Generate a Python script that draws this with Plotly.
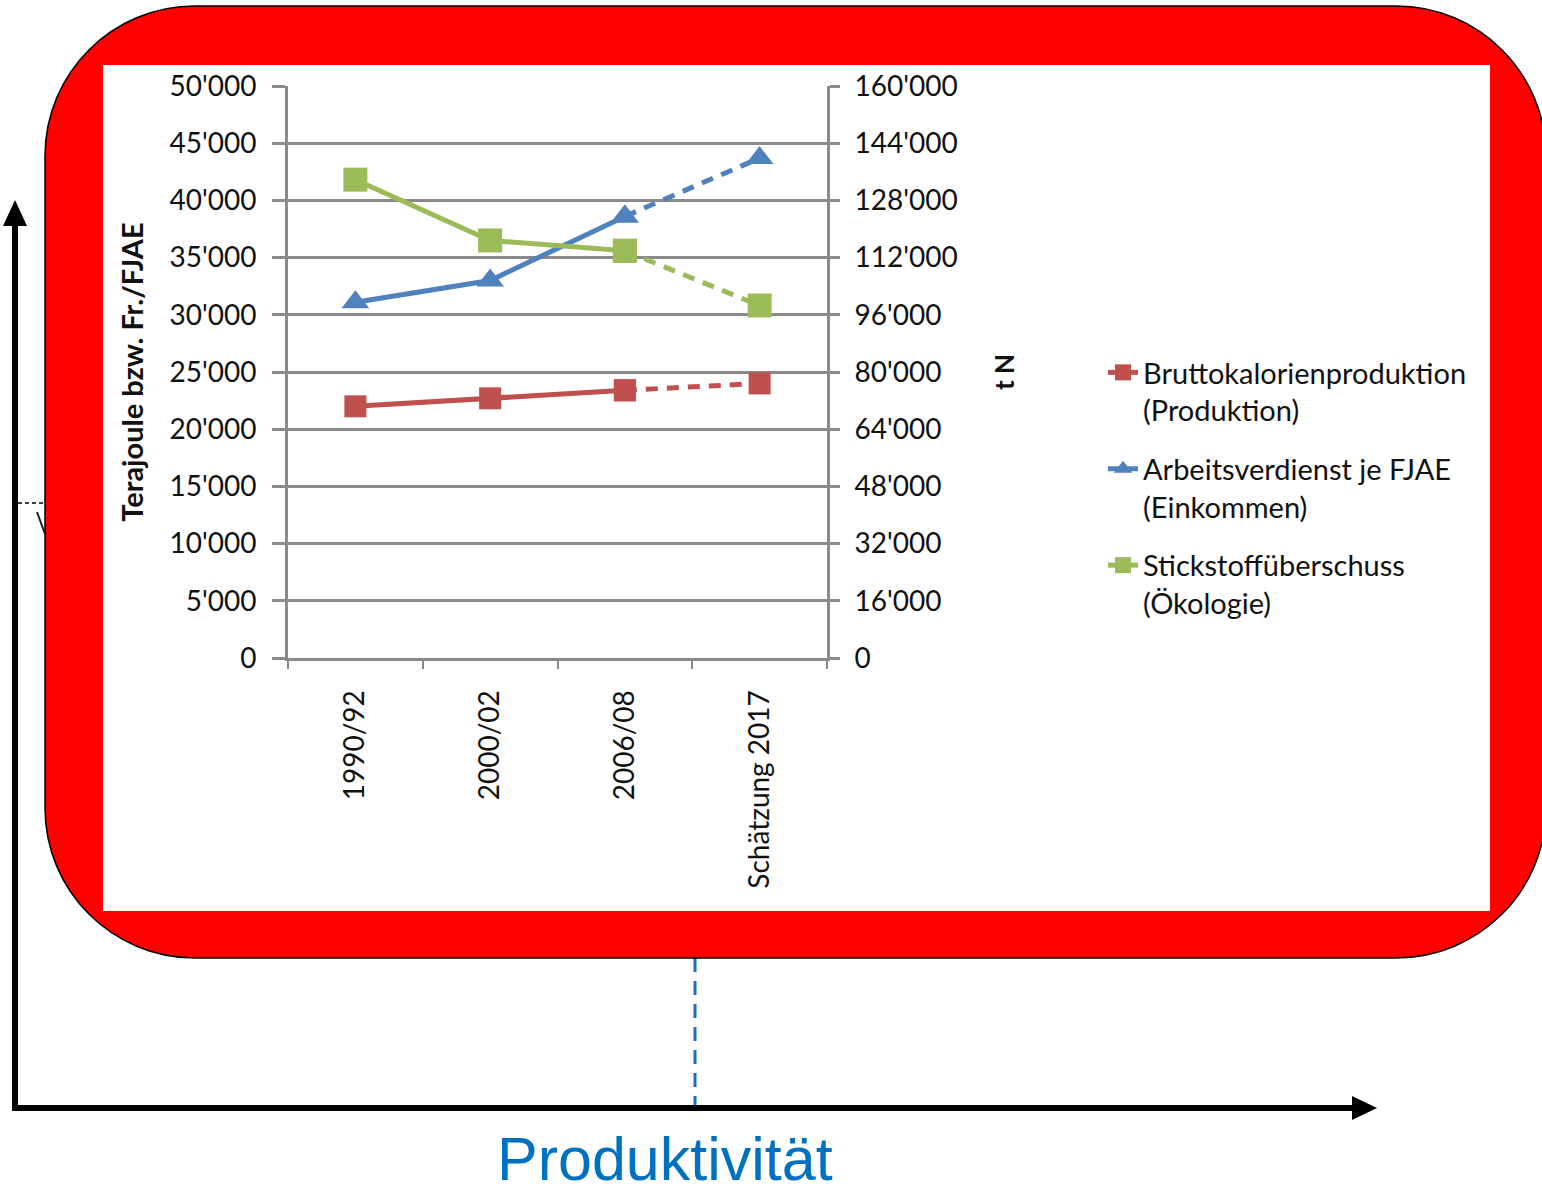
import plotly.graph_objects as go

# ---------------- data ----------------
categories = ["1990/92", "2000/02", "2006/08", "Schätzung 2017"]
produktion = [22000, 22700, 23400, 24000]          # Terajoule (left axis)
einkommen = [31100, 33000, 38600, 43700]           # Fr./FJAE (left axis)
stickstoff = [133800, 116800, 113900, 98600]       # t N (right axis)

names = ["Bruttokalorienproduktion<br>(Produktion)",
         "Arbeitsverdienst je FJAE<br>(Einkommen)",
         "Stickstoffüberschuss<br>(Ökologie)"]
colors = ["#C0504D", "#4F81BD", "#9BBB59"]
symbols = ["square", "triangle-up", "square"]
sizes = [22, 24, 24]

left_ticks = list(range(0, 50001, 5000))
right_ticks = list(range(0, 160001, 16000))

# ---------------- geometry helpers (pixel -> paper) ----------------
W, H = 1542, 1196
L, R, T, B = 288, 827, 86, 658


def px(x):
    return (x - L) / (R - L)


def py(y):
    return (B - y) / (B - T)


def path(points_cmds):
    out = []
    for cmd, pts in points_cmds:
        s = cmd
        s += " ".join(f"{px(x):.5f},{py(y):.5f}" for x, y in pts)
        out.append(s)
    return " ".join(out) + " Z"


def rounded_rect(x0, y0, x1, y1, r):
    k = 0.5523 * r
    return path([
        ("M", [(x0 + r, y0)]),
        ("L", [(x1 - r, y0)]),
        ("C", [(x1 - r + k, y0), (x1, y0 + r - k), (x1, y0 + r)]),
        ("L", [(x1, y1 - r)]),
        ("C", [(x1, y1 - r + k), (x1 - r + k, y1), (x1 - r, y1)]),
        ("L", [(x0 + r, y1)]),
        ("C", [(x0 + r - k, y1), (x0, y1 - r + k), (x0, y1 - r)]),
        ("L", [(x0, y0 + r)]),
        ("C", [(x0, y0 + r - k), (x0 + r - k, y0), (x0 + r, y0)]),
    ])


fig = go.Figure()

series = [(produktion, "y"), (einkommen, "y"), (stickstoff, "y2")]
for i, (vals, yax) in enumerate(series):
    # solid part (measured years)
    fig.add_trace(go.Scatter(
        x=categories[:3], y=vals[:3], yaxis=yax, name=names[i],
        mode="lines+markers", legendgroup=f"g{i}",
        line=dict(color=colors[i], width=5),
        marker=dict(symbol=symbols[i], size=sizes[i], color=colors[i]),
    ))
    # dashed estimate part
    fig.add_trace(go.Scatter(
        x=categories[2:], y=vals[2:], yaxis=yax, showlegend=False,
        mode="lines+markers", legendgroup=f"g{i}",
        line=dict(color=colors[i], width=5, dash="12px,9px"),
        marker=dict(symbol=symbols[i], size=sizes[i], color=colors[i]),
    ))

shapes = []
# background slide axes (arrows)
shapes.append(dict(type="line", xref="paper", yref="paper",
                   x0=px(15), x1=px(15), y0=py(1111), y1=py(222),
                   line=dict(color="black", width=6), layer="below"))
shapes.append(dict(type="path", xref="paper", yref="paper",
                   path=path([("M", [(3, 226)]), ("L", [(27, 226)]), ("L", [(15, 200)])]),
                   fillcolor="black", line=dict(color="black", width=0), layer="below"))
shapes.append(dict(type="line", xref="paper", yref="paper",
                   x0=px(12), x1=px(1356), y0=py(1108), y1=py(1108),
                   line=dict(color="black", width=6), layer="below"))
shapes.append(dict(type="path", xref="paper", yref="paper",
                   path=path([("M", [(1352, 1096)]), ("L", [(1352, 1120)]), ("L", [(1377, 1108)])]),
                   fillcolor="black", line=dict(color="black", width=0), layer="below"))
shapes.append(dict(type="line", xref="paper", yref="paper",
                   x0=px(18), x1=px(46), y0=py(503), y1=py(503),
                   line=dict(color="black", width=1.5, dash="4px,3px"), layer="below"))
shapes.append(dict(type="line", xref="paper", yref="paper",
                   x0=px(37), x1=px(45), y0=py(512), y1=py(534),
                   line=dict(color="#222222", width=2), layer="below"))
shapes.append(dict(type="line", xref="paper", yref="paper",
                   x0=px(695), x1=px(695), y0=py(958), y1=py(1105),
                   line=dict(color="#1F6FBF", width=3, dash="14px,9px"), layer="below"))
# red rounded frame
shapes.append(dict(type="path", xref="paper", yref="paper",
                   path=rounded_rect(45, 6, 1546, 958, 150),
                   fillcolor="#FF0000", line=dict(color="black", width=1.5), layer="below"))
# white chart area
shapes.append(dict(type="rect", xref="paper", yref="paper",
                   x0=px(103), x1=px(1490), y0=py(911), y1=py(65),
                   fillcolor="white", line=dict(width=0), layer="below"))

FONT = "Lato"
TXT = "#111111"
GRID = "#8a8a8a"

fig.update_layout(
    width=W, height=H, autosize=False,
    margin=dict(l=L, r=W - R, t=T, b=H - B, pad=0),
    paper_bgcolor="white", plot_bgcolor="rgba(0,0,0,0)",
    separators=".'",
    font=dict(family=FONT, size=27, color=TXT),
    shapes=shapes,
    showlegend=True,
    legend=dict(
        x=px(1103), y=py(347), xanchor="left", yanchor="top",
        font=dict(family=FONT, size=29, color=TXT),
        valign="top", tracegroupgap=18, bgcolor="rgba(0,0,0,0)",
        itemwidth=30,
    ),
    xaxis=dict(
        type="category", categoryorder="array", categoryarray=categories,
        range=[-0.5, 3.5], showgrid=False, zeroline=False,
        showline=True, linecolor=GRID, linewidth=3,
        ticks="outside", tickson="boundaries", ticklen=8, tickwidth=2, tickcolor=GRID,
        tickangle=-90, tickfont=dict(family=FONT, size=28, color=TXT),
        ticklabelstandoff=18,
    ),
    yaxis=dict(
        range=[0, 50000], tickvals=left_ticks, tickformat=",d",
        showgrid=True, gridcolor=GRID, gridwidth=2.5, zeroline=False,
        showline=True, linecolor=GRID, linewidth=3,
        ticks="outside", ticklen=13, tickwidth=2.5, tickcolor=GRID,
        tickfont=dict(family=FONT, size=28, color=TXT), ticklabelstandoff=10,
        title=dict(text="<b>Terajoule bzw. Fr./FJAE</b>", standoff=18,
                   font=dict(family=FONT, size=29, color=TXT)),
    ),
    yaxis2=dict(
        range=[0, 160000], tickvals=right_ticks, tickformat=",d",
        overlaying="y", side="right", showgrid=False, zeroline=False,
        showline=True, linecolor=GRID, linewidth=3,
        ticks="outside", ticklen=10, tickwidth=2.5, tickcolor=GRID,
        tickfont=dict(family=FONT, size=28, color=TXT), ticklabelstandoff=9,
        title=dict(text="<b>t N</b>", standoff=40,
                   font=dict(family=FONT, size=26, color=TXT)),
    ),
    annotations=[dict(
        xref="paper", yref="paper", x=px(665), y=py(1159),
        text="Produktivität", showarrow=False, xanchor="center", yanchor="middle",
        font=dict(family="Liberation Sans", size=61, color="#0070C0"),
    )],
)

fig.write_html("out.html")
